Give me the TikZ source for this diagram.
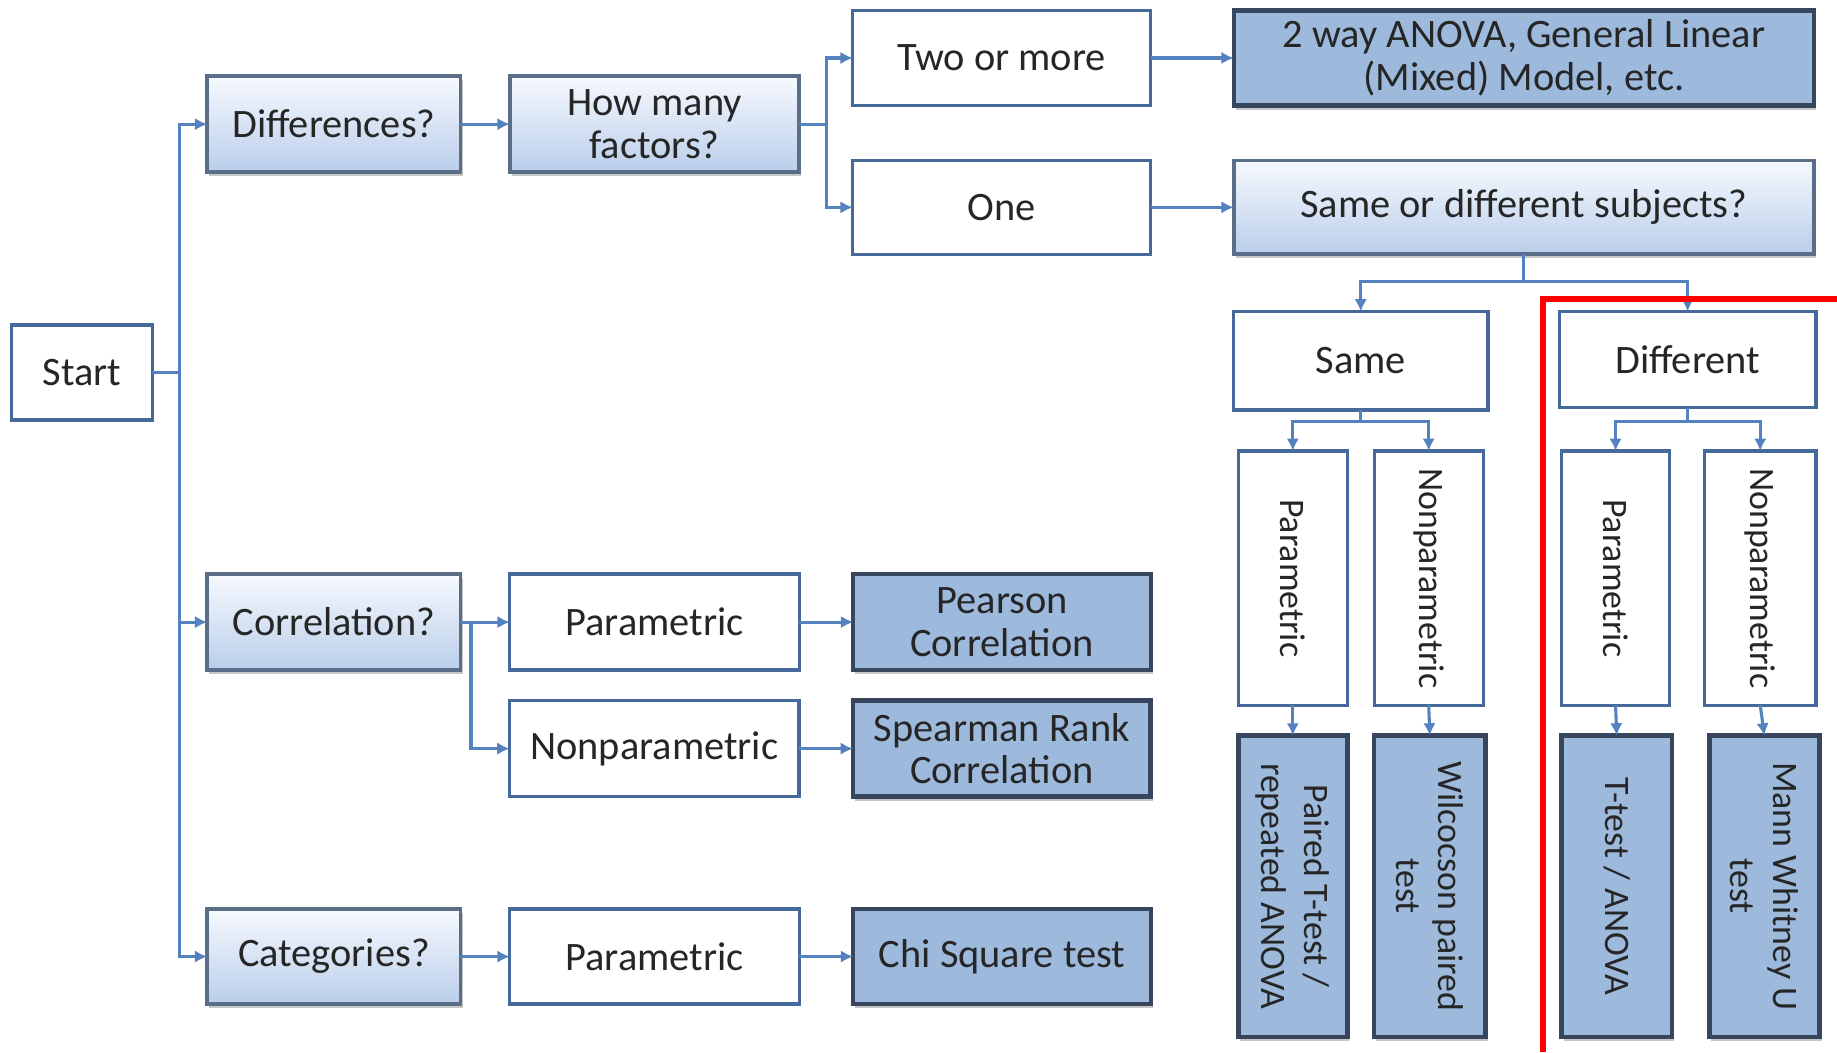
\documentclass[tikz,border=0pt]{standalone}
\usepackage{fontspec}
\setmainfont{Carlito}
\usetikzlibrary{positioning, arrows.meta, shadows}
\definecolor{linkblue}{RGB}{84,130,190}
\definecolor{boxedge}{RGB}{70,105,155}
\definecolor{askedge}{RGB}{90,110,135}
\definecolor{asktop}{RGB}{246,249,254}
\definecolor{askbot}{RGB}{186,206,234}
\definecolor{testfill}{RGB}{157,186,221}
\definecolor{testedge}{RGB}{55,70,92}
\definecolor{ink}{RGB}{38,38,38}
\tikzset{
    box/.style={inner sep=0pt, outer sep=0pt, text=ink, align=center, font=\fontsize{9.8}{10.4}\selectfont},
    plain/.style={box, draw=boxedge, line width=0.8pt, fill=white},
    ask/.style={box, draw=askedge, line width=0.9pt, top color=asktop, bottom color=askbot,
        drop shadow={shadow xshift=0.5pt, shadow yshift=-1pt, opacity=0.45}},
    test/.style={box, draw=testedge, line width=1.1pt, fill=testfill,
        drop shadow={shadow xshift=0.5pt, shadow yshift=-1pt, opacity=0.45}},
    tall/.style={rotate=-90, font=\fontsize{8.7}{10.4}\selectfont},
    link/.style={draw=linkblue, line width=0.75pt},
    arr/.style={link, -{Latex[length=3pt, width=3pt]}}
}
\begin{document}
\begin{tikzpicture}[x=0.01cm, y=-0.01cm]
            \useasboundingbox (0,0) rectangle (1568,898);
            \node[plain, minimum width=1.2cm, minimum height=0.81cm] (start) at (70,318) {Start};
            \node[ask, minimum width=2.16cm, minimum height=0.82cm] (diff) at (285,106) {Differences?};
            \node[ask, minimum width=2.47cm, minimum height=0.82cm, right=0.42cm of diff] (many) {How many\\factors?};
            \node[plain, minimum width=2.54cm, minimum height=0.81cm] (two) at (855,49.5) {Two or more};
            \node[plain, minimum width=2.54cm, minimum height=0.8cm] (one) at (855,177) {One};
            \node[test, minimum width=4.95cm, minimum height=0.81cm, right=0.71cm of two] (anova) {2 way ANOVA, General Linear\\(Mixed) Model, etc.};
            \node[ask, minimum width=4.95cm, minimum height=0.8cm, right=0.71cm of one] (subj) {Same or different subjects?};
            \node[plain, minimum width=2.17cm, minimum height=0.84cm] (same) at (1161.5,308) {Same};
            \node[plain, minimum width=2.19cm, minimum height=0.82cm] (other) at (1440.5,307) {Different};
            \node[plain, tall, minimum width=2.17cm, minimum height=0.93cm] (parS) at (1103.5,493.5) {Parametric};
            \node[plain, tall, minimum width=2.17cm, minimum height=0.93cm] (nonS) at (1219.5,493.5) {Nonparametric};
            \node[plain, tall, minimum width=2.17cm, minimum height=0.92cm] (parD) at (1379,493.5) {Parametric};
            \node[plain, tall, minimum width=2.17cm, minimum height=0.95cm] (nonD) at (1502.5,493.5) {Nonparametric};
            \node[test, tall, minimum width=2.57cm, minimum height=0.93cm] (paired) at (1103.5,756.5) {Paired T-test /\\repeated ANOVA};
            \node[test, tall, minimum width=2.57cm, minimum height=0.95cm] (wilc) at (1220.5,756.5) {Wilcocson paired\\test};
            \node[test, tall, minimum width=2.57cm, minimum height=0.94cm] (ttest) at (1380,756.5) {T-test / ANOVA};
            \node[test, tall, minimum width=2.57cm, minimum height=0.94cm] (mann) at (1506,756.5) {Mann Whitney U\\test};
            \node[ask, minimum width=2.16cm, minimum height=0.82cm] (corr) at (285,531) {Correlation?};
            \node[plain, minimum width=2.47cm, minimum height=0.82cm, right=0.42cm of corr] (parC) {Parametric};
            \node[plain, minimum width=2.47cm, minimum height=0.82cm] (nonC) at (558.5,639) {Nonparametric};
            \node[test, minimum width=2.54cm, minimum height=0.82cm, right=0.46cm of parC] (pear) {Pearson\\Correlation};
            \node[test, minimum width=2.54cm, minimum height=0.82cm, right=0.46cm of nonC] (spear) {Spearman Rank\\Correlation};
            \node[ask, minimum width=2.16cm, minimum height=0.81cm] (cat) at (285,816.5) {Categories?};
            \node[plain, minimum width=2.47cm, minimum height=0.81cm, right=0.42cm of cat] (parK) {Parametric};
            \node[test, minimum width=2.54cm, minimum height=0.81cm, right=0.46cm of parK] (chi) {Chi Square test};
            \draw[link] (start.east) -- ++(23,0) coordinate (sj);
            \draw[arr] (sj) |- (diff.west);
            \draw[arr] (sj) |- (corr.west);
            \draw[arr] (sj) |- (cat.west);
            \draw[arr] (diff) -- (many);
            \draw[link] (many.east) -- ++(23,0) coordinate (mj);
            \draw[arr] (mj) |- (two.west);
            \draw[arr] (mj) |- (one.west);
            \draw[arr] (two) -- (anova);
            \draw[arr] (one) -- (subj);
            \draw[link] (subj.south) -- ++(0,23) coordinate (uj);
            \draw[arr] (uj) -| (same.north);
            \draw[arr] (uj) -| (other.north);
            \draw[link] (same.south) -- ++(0,10) coordinate (aj);
            \draw[arr] (aj) -| (parS.west);
            \draw[arr] (aj) -| (nonS.west);
            \draw[link] (other.south) -- ++(0,12) coordinate (bj);
            \draw[arr] (bj) -| (parD.west);
            \draw[arr] (bj) -| (nonD.west);
            \draw[arr] (parS.east) -- (paired.west);
            \draw[arr] (nonS.east) -- (wilc.west);
            \draw[arr] (parD.east) -- (ttest.west);
            \draw[arr] (nonD.east) -- (mann.west);
            \draw[arr] (corr) -- (parC);
            \draw[link] (corr.east) -- ++(9,0) coordinate (cj);
            \draw[arr] (cj) |- (nonC.west);
            \draw[arr] (parC) -- (pear);
            \draw[arr] (nonC) -- (spear);
            \draw[arr] (cat) -- (parK);
            \draw[arr] (parK) -- (chi);
            \draw[red, line width=1.4pt] (1317,898) -- (1317,255) -- (1568,255);
        \end{tikzpicture}
\end{document}
